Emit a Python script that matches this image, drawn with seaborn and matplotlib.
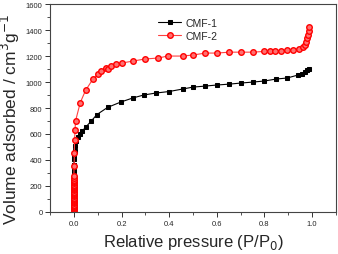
import numpy as np
import pandas as pd
import matplotlib
matplotlib.use("Agg")
import matplotlib.pyplot as plt
from matplotlib.ticker import MultipleLocator, AutoMinorLocator
import seaborn as sns

# CMF-1 isotherm
p_cmf1 = [0.0001, 0.0002, 0.0003, 0.0004, 0.0005, 0.0006, 0.0008, 0.001, 0.002,
          0.003, 0.005, 0.009, 0.016, 0.025, 0.036, 0.049, 0.074, 0.097, 0.142,
          0.197, 0.247, 0.293, 0.343, 0.40, 0.456, 0.50, 0.552, 0.60, 0.653,
          0.70, 0.753, 0.80, 0.849, 0.895, 0.941, 0.958, 0.97, 0.979, 0.987]
v_cmf1 = [40, 100, 160, 220, 270, 315, 360, 408, 440,
          472, 510, 548, 574, 600, 625, 651, 702, 750, 805,
          846, 877, 900, 915, 927, 946, 961, 969, 977, 984,
          992, 1000, 1008, 1023, 1031, 1054, 1061, 1077, 1092, 1100]

# CMF-2 isotherm (the low-pressure points pile up at P/P0 ~ 0)
p_cmf2 = [0.0, 0.0, 0.0, 0.0, 0.0, 0.0, 0.0, 0.0, 0.0, 0.0, 0.0, 0.0, 0.0, 0.0,
          0.0, 0.0, 0.0, 0.0, 0.0, 0.0, 0.0, 0.0, 0.0, 0.0, 0.0, 0.0, 0.0, 0.0,
          0.0, 0.0, 0.001, 0.002, 0.003, 0.005, 0.007, 0.027, 0.049, 0.079,
          0.10, 0.113, 0.134, 0.142, 0.155, 0.175, 0.20, 0.247, 0.297, 0.355,
          0.393, 0.456, 0.50, 0.552, 0.60, 0.653, 0.70, 0.753, 0.80, 0.823,
          0.845, 0.869, 0.893, 0.918, 0.943, 0.962, 0.972, 0.973, 0.979,
          0.983, 0.986, 0.987]
v_cmf2 = [3, 12, 21, 30, 39, 48, 57, 66, 75, 84, 93, 102, 111, 120,
          129, 138, 147, 156, 165, 174, 183, 192, 201, 210, 219, 228, 237, 246,
          258, 277, 350, 450, 550, 630, 700, 842, 935, 1020,
          1061, 1085, 1108, 1100, 1123, 1138, 1146, 1161, 1177, 1185,
          1200, 1200, 1208, 1223, 1223, 1230, 1230, 1230, 1236, 1238,
          1240, 1242, 1244, 1248, 1254, 1266, 1284, 1310, 1336,
          1364, 1392, 1420]

df1 = pd.DataFrame({"p": p_cmf1, "v": v_cmf1})
df2 = pd.DataFrame({"p": p_cmf2, "v": v_cmf2})

sns.set_style("ticks")
plt.rcParams["font.family"] = ["Liberation Sans", "DejaVu Sans"]

fig = plt.figure(figsize=(3.38, 2.55), dpi=100)
ax = fig.add_axes([0.148, 0.165, 0.846, 0.815])

sns.lineplot(data=df1, x="p", y="v", sort=False, estimator=None, ax=ax,
             color="black", lw=0.8, marker="s", markersize=3.2,
             markeredgecolor="black", markerfacecolor="black", label="CMF-1")
sns.lineplot(data=df2, x="p", y="v", sort=False, estimator=None, ax=ax,
             color="#ff4040", lw=0.8, marker="o", markersize=4.0,
             markeredgecolor="red", markerfacecolor="#ff7070", markeredgewidth=1.0,
             label="CMF-2")

ax.set_xlim(-0.1, 1.1)
ax.set_ylim(0, 1600)
ax.xaxis.set_major_locator(MultipleLocator(0.2))
ax.xaxis.set_minor_locator(AutoMinorLocator(2))
ax.yaxis.set_major_locator(MultipleLocator(200))
ax.yaxis.set_minor_locator(AutoMinorLocator(2))
ax.tick_params(which="major", length=3.5, width=0.7, labelsize=5.5, pad=2, color="#333333")
ax.tick_params(which="minor", length=2, width=0.6, color="#333333")
for s in ax.spines.values():
    s.set_linewidth(0.8)
    s.set_color("#444444")

ax.set_xlabel("Relative pressure (P/P$_0$)", fontsize=12, labelpad=4)
ax.set_ylabel("Volume adsorbed / cm$^3$g$^{-1}$", fontsize=12.5)
ax.yaxis.set_label_coords(-0.098, 0.45)

leg = ax.legend(loc="upper left", bbox_to_anchor=(0.345, 0.98), frameon=False,
                fontsize=7.5, handlelength=2.2, handletextpad=0.4, labelspacing=0.3)

fig.savefig("out.png", dpi=100)
